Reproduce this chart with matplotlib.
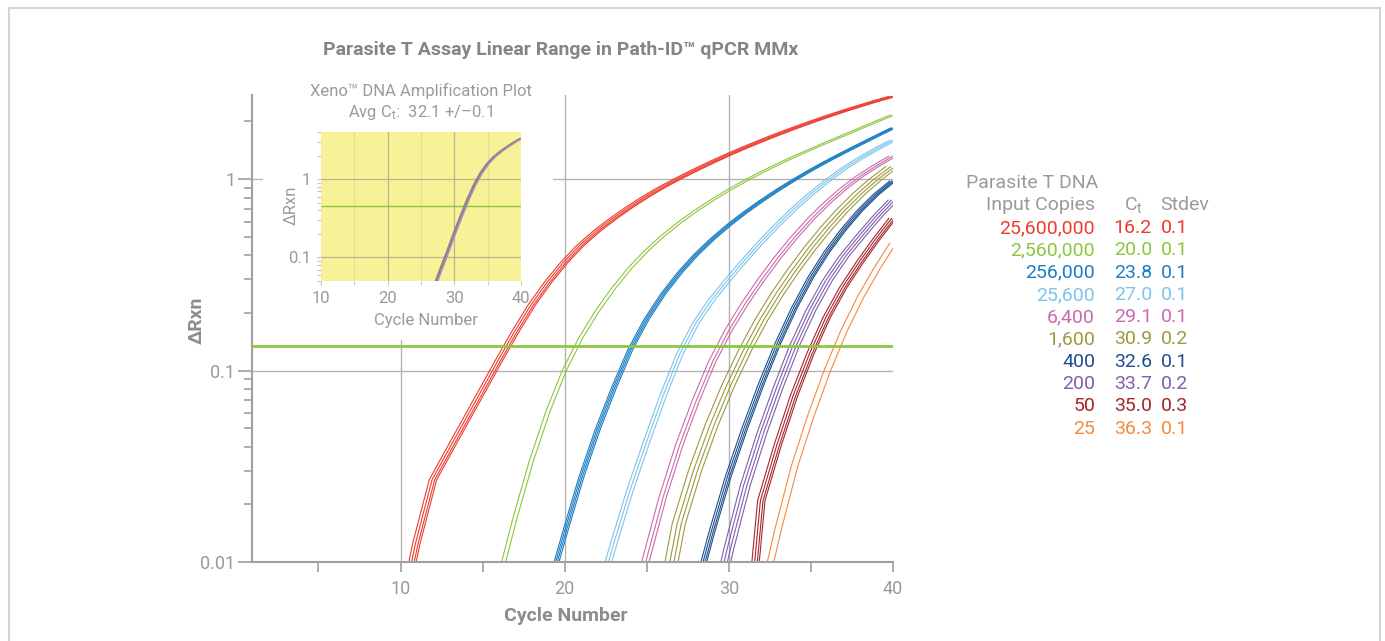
import matplotlib
matplotlib.use("Agg")
import matplotlib.pyplot as plt
from matplotlib import font_manager as fm
from matplotlib.patches import Rectangle
from matplotlib.lines import Line2D
from matplotlib.ticker import FixedLocator, NullFormatter, LogLocator, FuncFormatter
import numpy as np

# ---------------- data ----------------
# Main plot: Delta Rn per cycle (one representative curve per dilution), first cycle listed,
# replicate offsets in cycles
red_start = 10
red_drn = [0.00501, 0.0126, 0.0269, 0.0385, 0.0550, 0.0785, 0.1122, 0.1585, 0.2188, 0.2884,
           0.3673, 0.4519, 0.5370, 0.6237, 0.7161, 0.8128, 0.9120, 1.012, 1.117, 1.227, 1.343,
           1.462, 1.585, 1.714, 1.845, 1.982, 2.123, 2.265, 2.410, 2.559, 2.704]
red_reps = [-0.25, -0.08, 0.08, 0.2]

green_start = 16
green_drn = [0.00794, 0.0170, 0.0339, 0.0610, 0.1, 0.148, 0.204, 0.269, 0.343, 0.422, 0.505,
             0.592, 0.682, 0.776, 0.875, 0.977, 1.084, 1.194, 1.309, 1.429, 1.556, 1.690, 1.837,
             1.995, 2.163]
green_reps = [-0.15, 0.1]

blue_start = 19
blue_drn = [0.00708, 0.0141, 0.0275, 0.0490, 0.0813, 0.1288, 0.1862, 0.2512, 0.3236, 0.4027,
            0.4864, 0.5754, 0.6699, 0.7709, 0.8790, 0.9931, 1.114, 1.242, 1.377, 1.521, 1.679, 1.849]
blue_reps = [-0.15, -0.05, 0.05, 0.15]

ltblue_start = 22
ltblue_drn = [0.00631, 0.0126, 0.0240, 0.0427, 0.0741, 0.1216, 0.1778, 0.2371, 0.3020, 0.3802,
              0.4732, 0.5808, 0.7031, 0.8375, 0.9817, 1.135, 1.285, 1.439, 1.596]
ltblue_reps = [-0.2, 0.0, 0.2]

pink_start = 24
pink_drn = [0.00501, 0.01047, 0.02188, 0.04074, 0.06918, 0.1109, 0.1622, 0.2239, 0.2985, 0.3890,
            0.4955, 0.6166, 0.7499, 0.8913, 1.035, 1.175, 1.318]
pink_reps = [-0.25, 0.0, 0.2]

olive_start = 26
olive_drn = [0.00562, 0.01585, 0.0302, 0.0519, 0.0832, 0.1259, 0.1820, 0.2512, 0.3350, 0.4365,
             0.5559, 0.6918, 0.8414, 1.0, 1.161]
olive_reps = [-0.45, -0.15, 0.1, 0.35]

dkblue_start = 28
dkblue_drn = [0.00692, 0.01445, 0.02818, 0.05012, 0.08511, 0.1380, 0.2113, 0.3055, 0.4169,
              0.5433, 0.6839, 0.8318, 0.9772]
dkblue_reps = [-0.2, -0.07, 0.05, 0.15]

purple_start = 29
purple_drn = [0.00501, 0.01175, 0.02512, 0.04677, 0.08128, 0.1349, 0.2065, 0.2951, 0.3936,
              0.5012, 0.6310, 0.7762]
purple_reps = [-0.3, -0.1, 0.1, 0.3]

dkred_start = 31
dkred_drn = [0.00251, 0.02089, 0.04074, 0.07413, 0.1230, 0.1905, 0.2723, 0.3673, 0.4842, 0.6237]
dkred_reps = [-0.25, -0.08, 0.08, 0.2]

orange_start = 32
orange_drn = [0.00631, 0.01479, 0.03162, 0.05821, 0.1, 0.1603, 0.2399, 0.3388, 0.4624]
orange_reps = [-0.2, 0.2]

threshold = 0.1336

# Inset (Xeno internal control)
xeno_start = 26
xeno_drn = [0.02399, 0.04169, 0.07079, 0.1175, 0.1995, 0.3311, 0.5370, 0.8318, 1.189, 1.567,
            1.928, 2.265, 2.600, 2.951, 3.311]
xeno_reps = [-0.2, -0.1, 0.0, 0.05, 0.1, 0.2]
xeno_threshold = 0.45

# Legend table
input_copies = ["25,600,000", "2,560,000", "256,000", "25,600", "6,400", "1,600", "400", "200", "50", "25"]
ct_values = ["16.2", "20.0", "23.8", "27.0", "29.1", "30.9", "32.6", "33.7", "35.0", "36.3"]
stdevs = ["0.1", "0.1", "0.1", "0.1", "0.1", "0.2", "0.1", "0.2", "0.3", "0.1"]

x_major = [10, 20, 30, 40]
x_minor = [5, 15, 25, 35]
y_major = [0.01, 0.1, 1]
inset_x_major = [10, 20, 30, 40]
inset_x_minor = [15, 25, 35]
inset_y_major = [0.1, 1]

# ---------------- styling ----------------
colors = ["#ee3b2e", "#8dc63f", "#1b7ec2", "#7cc4ec", "#cc6aac",
          "#9c9a3e", "#1d4f8c", "#7f5fae", "#a6252b", "#f6893d"]
xeno_colors = ["#e2574c", "#8c86b8", "#7d7d95", "#5f8fcf", "#b47aa8", "#9a9aa8"]

names = {f.name for f in fm.fontManager.ttflist}
def pick(cands):
    for c in cands:
        if c in names:
            return c
    return "DejaVu Sans"

LIGHT = pick(["Roboto", "Open Sans", "Lato", "Liberation Sans"])
BOLD = pick(["Liberation Sans Narrow", "Roboto", "Liberation Sans"])
plt.rcParams["font.family"] = [LIGHT, "DejaVu Sans"]
plt.rcParams["mathtext.fontset"] = "custom"
plt.rcParams["mathtext.rm"] = LIGHT
plt.rcParams["mathtext.it"] = LIGHT

GRAY_TXT = "#9a9a9a"
GRAY_AX = "#a0a0a0"
W, H = 1385, 641
TW = "normal"

def fx(px):
    return px / W

def fy(py):
    return 1 - py / H

fig = plt.figure(figsize=(W / 100, H / 100), dpi=100)
fig.patch.set_facecolor("white")

# page frame
for (x0, y0, x1, y1) in [(9, 8, 9, 641), (9, 8, 1380, 8), (1380, 8, 1380, 641)]:
    fig.add_artist(Line2D([fx(x0), fx(x1)], [fy(y0), fy(y1)], color="#d4d4d4", lw=1.5,
                          transform=fig.transFigure))

# ---------------- main axes ----------------
ax = fig.add_axes([fx(252), fy(562), (893 - 252) / W, (562 - 95) / H])
ax.set_yscale("log")
ax.set_xlim(0.95, 40)
ax.set_ylim(0.01, 2.75)

for s in ["top", "right"]:
    ax.spines[s].set_visible(False)
for s in ["left", "bottom"]:
    ax.spines[s].set_color(GRAY_AX)
    ax.spines[s].set_linewidth(1.5)

ax.xaxis.set_major_locator(FixedLocator(x_major))
ax.xaxis.set_minor_locator(FixedLocator(x_minor))
ax.yaxis.set_major_locator(FixedLocator(y_major))
ax.yaxis.set_minor_locator(LogLocator(base=10, subs=np.arange(2, 10)))
ax.yaxis.set_minor_formatter(NullFormatter())
ax.yaxis.set_major_formatter(FuncFormatter(lambda v, p: f"{v:g}"))
ax.tick_params(axis="x", which="both", direction="out", length=7, width=1.2,
               color=GRAY_AX, labelcolor=GRAY_TXT, labelsize=13, pad=6)
ax.tick_params(axis="y", which="major", direction="out", length=10, width=1.2,
               color=GRAY_AX, labelcolor=GRAY_TXT, labelsize=13, pad=2)
ax.tick_params(axis="y", which="minor", direction="out", length=6, width=1.2, color=GRAY_AX)
for lab in ax.get_xticklabels() + ax.get_yticklabels():
    lab.set_fontweight(TW)

for xv in x_major[:-1]:
    ax.axvline(xv, color="#b4b4b4", lw=1.0, zorder=1)
for yv in y_major[1:]:
    ax.axhline(yv, color="#b4b4b4", lw=1.0, zorder=1)

# white panel behind the inset (hides the grid there)
ax.add_patch(Rectangle(((263 - 252) / 641, (562 - 340) / 467), (553 - 263) / 641, 1 - (562 - 340) / 467,
                       transform=ax.transAxes, facecolor="white", edgecolor="none", zorder=1.5))

ax.axhline(threshold, color="#8dc63f", lw=2.0, zorder=3)

series = [(red_start, red_drn, red_reps), (green_start, green_drn, green_reps),
          (blue_start, blue_drn, blue_reps), (ltblue_start, ltblue_drn, ltblue_reps),
          (pink_start, pink_drn, pink_reps), (olive_start, olive_drn, olive_reps),
          (dkblue_start, dkblue_drn, dkblue_reps), (purple_start, purple_drn, purple_reps),
          (dkred_start, dkred_drn, dkred_reps), (orange_start, orange_drn, orange_reps)]
for (start, drn, reps), col in zip(series, colors):
    cyc = np.arange(start, start + len(drn))
    for r in reps:
        ax.plot(cyc + r, drn, color=col, lw=0.8, zorder=2)

fig.text(fx(566), fy(616), "Cycle Number", ha="center", va="center", color="#8c8c8c",
         fontsize=14, fontweight="bold", family=[BOLD, "DejaVu Sans"])
fig.text(fx(197), fy(320), "\u0394Rxn", ha="center", va="center", rotation=90, color="#8c8c8c",
         fontsize=14, fontweight="bold", family=[BOLD, "DejaVu Sans"])
fig.text(fx(561), fy(50), "Parasite T Assay Linear Range in Path-ID\u2122 qPCR MMx", ha="center",
         va="center", color="#858585", fontsize=14, fontweight="bold", family=[BOLD, "DejaVu Sans"])

# ---------------- inset ----------------
axi = fig.add_axes([fx(321), fy(281), 200 / W, 149 / H])
axi.set_facecolor("#f7f297")
axi.set_yscale("log")
axi.set_xlim(10, 40)
axi.set_ylim(0.05, 4.0)
for s in axi.spines.values():
    s.set_visible(False)
axi.xaxis.set_major_locator(FixedLocator(inset_x_major))
axi.xaxis.set_minor_locator(FixedLocator(inset_x_minor))
axi.yaxis.set_major_locator(FixedLocator(inset_y_major))
axi.yaxis.set_minor_locator(LogLocator(base=10, subs=np.arange(2, 10)))
axi.yaxis.set_minor_formatter(NullFormatter())
axi.yaxis.set_major_formatter(FuncFormatter(lambda v, p: f"{v:g}"))
axi.tick_params(axis="both", which="both", direction="out", length=3, width=0.8,
                color="#c8c8c8", labelcolor=GRAY_TXT, labelsize=12, pad=4)
for lab in axi.get_xticklabels() + axi.get_yticklabels():
    lab.set_fontweight(TW)
for xv in inset_x_minor:
    axi.axvline(xv, color="#e3de98", lw=0.9, zorder=1)
for xv in inset_x_major[1:-1]:
    axi.axvline(xv, color="#b8b48e", lw=0.9, zorder=1)
for yv in inset_y_major:
    axi.axhline(yv, color="#b8b48e", lw=0.9, zorder=1)
axi.axhline(xeno_threshold, color="#8dc63f", lw=1.0, zorder=1.5)
xcyc = np.arange(xeno_start, xeno_start + len(xeno_drn))
for r, col in zip(xeno_reps, xeno_colors):
    axi.plot(xcyc + r, xeno_drn, color=col, lw=0.8, zorder=2)

fig.text(fx(421), fy(91), "Xeno\u2122 DNA Amplification Plot", ha="center", va="center",
         color=GRAY_TXT, fontsize=12, fontweight=TW)
fig.text(fx(421), fy(113), "Avg C$_{\\mathrm{t}}$:  32.1 +/\u20130.1", ha="center", va="center",
         color=GRAY_TXT, fontsize=12, fontweight=TW)
fig.text(fx(291), fy(205), "\u0394Rxn", ha="center", va="center", rotation=90,
         color=GRAY_TXT, fontsize=12, fontweight=TW)
fig.text(fx(426), fy(320), "Cycle Number", ha="center", va="center",
         color=GRAY_TXT, fontsize=12, fontweight=TW)

# ---------------- legend table ----------------
LEG_FS = 14
fig.text(fx(966), fy(183), "Parasite T DNA", ha="left", va="center", color=GRAY_TXT,
         fontsize=LEG_FS, fontweight=TW)
fig.text(fx(1095), fy(205), "Input Copies", ha="right", va="center", color=GRAY_TXT,
         fontsize=LEG_FS, fontweight=TW)
fig.text(fx(1133), fy(205), "C$_{\\mathrm{t}}$", ha="center", va="center", color=GRAY_TXT,
         fontsize=LEG_FS, fontweight=TW)
fig.text(fx(1160), fy(205), "Stdev", ha="left", va="center", color=GRAY_TXT,
         fontsize=LEG_FS, fontweight=TW)
row_y0, row_dy = 228, 22.3
for i, (cp, ct, sd, col) in enumerate(zip(input_copies, ct_values, stdevs, colors)):
    yy = fy(row_y0 + i * row_dy)
    fig.text(fx(1095), yy, cp, ha="right", va="center", color=col, fontsize=LEG_FS, fontweight=TW)
    fig.text(fx(1152), yy, ct, ha="right", va="center", color=col, fontsize=LEG_FS, fontweight=TW)
    fig.text(fx(1161), yy, sd, ha="left", va="center", color=col, fontsize=LEG_FS, fontweight=TW)

fig.savefig("out.png", dpi=100, facecolor="white")
